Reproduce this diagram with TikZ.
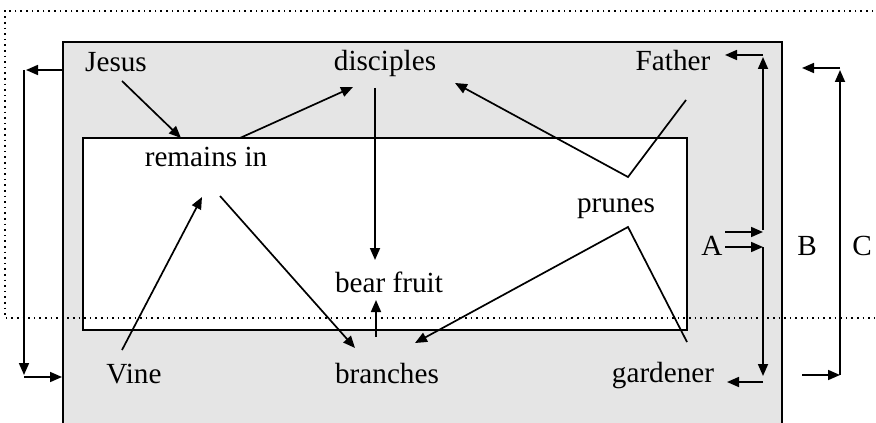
\documentclass[tikz,border=0pt]{standalone}
\usepackage{fontspec}
\setmainfont{Liberation Serif}
\usetikzlibrary{arrows.meta}
\begin{document}
\begin{tikzpicture}[x=0.5pt,y=-0.5pt,
  lbl/.style={inner sep=0pt, anchor=base, font=\fontsize{14.6pt}{17pt}\selectfont},
  conn/.style={line width=0.85pt, -{Triangle[length=6pt,width=5pt]}},
  boxline/.style={line width=0.9pt, draw=black}]
\useasboundingbox (0,0) rectangle (876,422);
\clip (0,0) rectangle (876,422);
\fill[white] (0,0) rectangle (876,422);
% boxes
\draw[boxline, fill=gray!20] (63,42) rectangle (782,440);
\draw[boxline, fill=white] (83,138) rectangle (687,330);
% labels
\node[lbl] (jesus) at (116,72) {Jesus};
\node[lbl] (disc) at (385,71) {disciples};
\node[lbl] (father) at (673,71) {Father};
\node[lbl] (remains) at (206,167) {remains in};
\node[lbl] (prunes) at (616,213) {prunes};
\node[lbl] (fruit) at (389,292) {bear fruit};
\node[lbl] (vine) at (134,383) {Vine};
\node[lbl] (branches) at (387,383) {branches};
\node[lbl] (gard) at (663,382) {gardener};
\node[lbl] (A) at (712,255) {A};
\node[lbl] (B) at (807,255) {B};
\node[lbl] (C) at (862,255) {C};
% connector end points
\coordinate (jesusOut) at (122,81);
\coordinate (remainsInTop) at (181,138);
\coordinate (remainsOutTop) at (240,138);
\coordinate (discInL) at (353,87);
\coordinate (discOut) at (375,88);
\coordinate (fruitInTop) at (375,260);
\coordinate (fatherOut) at (686,100);
\coordinate (fatherBend) at (628,177);
\coordinate (discInR) at (455,83);
\coordinate (vineOut) at (122,350);
\coordinate (remainsInBot) at (202,197);
\coordinate (remainsOutBot) at (220,196);
\coordinate (branchesInL) at (355,348);
\coordinate (branchesOut) at (376,337);
\coordinate (fruitInBot) at (376,300);
\coordinate (gardOut) at (687,342);
\coordinate (prunesBend) at (628,227);
\coordinate (branchesInR) at (415,343);
% connectors
\draw[conn] (jesusOut) -- (remainsInTop);
\draw[conn] (remainsOutTop) -- (discInL);
\draw[conn] (discOut) -- (fruitInTop);
\draw[conn] (fatherOut) -- (fatherBend) -- (discInR);
\draw[conn] (vineOut) -- (remainsInBot);
\draw[conn] (remainsOutBot) -- (branchesInL);
\draw[conn] (branchesOut) -- (fruitInBot);
\draw[conn] (gardOut) -- (prunesBend) -- (branchesInR);
% left bracket
\coordinate (L1) at (63,70);
\coordinate (L2) at (26,70);
\coordinate (L3) at (24,70);
\coordinate (L4) at (24,375);
\coordinate (L5) at (24,377);
\coordinate (L6) at (62,377);
\draw[conn] (L1) -- (L2);
\draw[conn] (L3) -- (L4);
\draw[conn] (L5) -- (L6);
% bracket A
\coordinate (a1) at (763,55);
\coordinate (a2) at (725,55);
\coordinate (a3) at (763,230);
\coordinate (a4) at (763,57);
\coordinate (a5) at (763,247);
\coordinate (a6) at (763,376);
\coordinate (a7) at (763,382);
\coordinate (a8) at (727,382);
\coordinate (a9) at (725,232);
\coordinate (a10) at (763,232);
\coordinate (a11) at (725,247);
\coordinate (a12) at (763,247);
\draw[conn] (a1) -- (a2);
\draw[conn] (a3) -- (a4);
\draw[conn] (a5) -- (a6);
\draw[conn] (a7) -- (a8);
\draw[conn] (a9) -- (a10);
\draw[conn] (a11) -- (a12);
% bracket B/C
\coordinate (b1) at (840,375);
\coordinate (b2) at (840,70);
\coordinate (b3) at (840,68);
\coordinate (b4) at (802,68);
\coordinate (b5) at (802,375);
\coordinate (b6) at (840,375);
\draw[conn] (b1) -- (b2);
\draw[conn] (b3) -- (b4);
\draw[conn] (b5) -- (b6);
% dotted frame
\draw[dotted, line width=0.8pt] (890,11) -- (5,11) -- (5,318) -- (890,318);
\end{tikzpicture}
\end{document}
